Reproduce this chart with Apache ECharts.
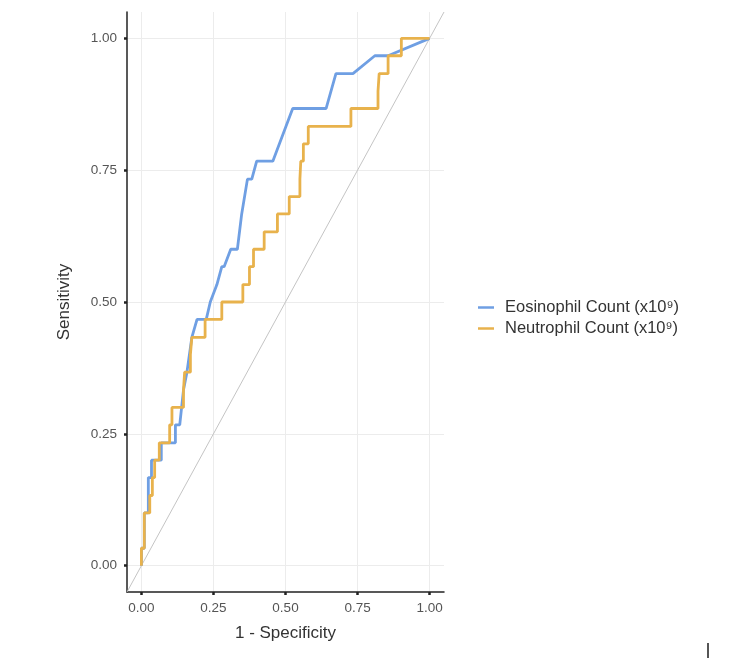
<!DOCTYPE html>
<html>
<head>
<meta charset="utf-8">
<title>ROC</title>
<script src="https://cdn.jsdelivr.net/npm/echarts@6/dist/echarts.min.js"></script>
<style>
	html, body {margin:0; padding:0; background:#fff;}
	#main {width:750px; height:662px;}
</style>
</head>
<body>
<div id="main"></div>
<script>
	// tick positions and labels
	var tickValues = [0, 0.25, 0.5, 0.75, 1];
	var tickLabels = ['0.00', '0.25', '0.50', '0.75', '1.00'];
	// reference diagonal (chance line), spans the axis range
	var refLine = [[-0.05, -0.05], [1.05, 1.05]];
	// Eosinophil Count: [1 - specificity, sensitivity]
	var eosinophil = [
		[0, 0], [0, 0.033], [0.010, 0.033], [0.010, 0.1], [0.024, 0.1], [0.024, 0.167],
		[0.035, 0.167], [0.035, 0.2], [0.069, 0.2], [0.069, 0.233], [0.118, 0.233],
		[0.118, 0.267], [0.133, 0.267], [0.146, 0.333], [0.158, 0.367], [0.175, 0.433],
		[0.193, 0.467], [0.225, 0.467], [0.239, 0.5], [0.262, 0.533], [0.279, 0.567],
		[0.287, 0.567], [0.310, 0.6], [0.333, 0.6], [0.348, 0.667], [0.368, 0.733],
		[0.383, 0.733], [0.400, 0.767], [0.456, 0.767], [0.525, 0.867], [0.641, 0.867],
		[0.675, 0.933], [0.734, 0.933], [0.810, 0.967], [0.856, 0.967], [1, 1]
	];
	// Neutrophil Count
	var neutrophil = [
		[0, 0], [0, 0.033], [0.010, 0.033], [0.010, 0.1], [0.029, 0.1], [0.029, 0.133],
		[0.038, 0.133], [0.038, 0.167], [0.046, 0.167], [0.046, 0.2], [0.062, 0.2],
		[0.062, 0.233], [0.098, 0.233], [0.098, 0.267], [0.106, 0.267], [0.106, 0.3],
		[0.146, 0.3], [0.146, 0.333], [0.150, 0.333], [0.150, 0.367], [0.170, 0.367],
		[0.170, 0.4], [0.175, 0.4], [0.175, 0.433], [0.221, 0.433], [0.221, 0.467],
		[0.279, 0.467], [0.279, 0.5], [0.352, 0.5], [0.352, 0.533], [0.375, 0.533],
		[0.375, 0.567], [0.389, 0.567], [0.389, 0.6], [0.426, 0.6], [0.426, 0.633],
		[0.472, 0.633], [0.472, 0.667], [0.513, 0.667], [0.513, 0.7], [0.550, 0.7],
		[0.550, 0.733], [0.553, 0.733], [0.553, 0.767], [0.562, 0.767], [0.562, 0.8],
		[0.579, 0.8], [0.579, 0.833], [0.727, 0.833], [0.727, 0.867], [0.821, 0.867],
		[0.821, 0.9], [0.825, 0.9], [0.825, 0.933], [0.856, 0.933], [0.856, 0.967],
		[0.902, 0.967], [0.902, 1], [1, 1]
	];
	var seriesNames = ['Eosinophil Count (x10\u2079)', 'Neutrophil Count (x10\u2079)'];
	var colors = ['#6f9fe3', '#e8b24c'];

	var font = '"Liberation Sans", Arial, Helvetica, sans-serif';
	function tickFmt(v) {
		for (var i = 0; i < tickValues.length; i++) {
			if (Math.abs(tickValues[i] - v) < 1e-6) return tickLabels[i];
		}
		return '';
	}
	function makeAxis(name, nameGap, margin) {
		return {
			type: 'value',
			min: -0.05,
			max: 1.05,
			name: name,
			nameGap: nameGap,
			nameLocation: 'middle',
			nameTextStyle: {fontFamily: font, fontSize: 17, color: '#333'},
			axisLine: {show: true, onZero: false, lineStyle: {color: '#222', width: 1.5}},
			axisTick: {show: true, length: 3, customValues: tickValues,
				lineStyle: {color: '#222', width: 2.5}},
			axisLabel: {fontFamily: font, fontSize: 13.5, color: '#555', margin: margin,
				customValues: tickValues, formatter: tickFmt},
			splitLine: {show: true, lineStyle: {color: '#ececec', width: 1}}
		};
	}

	var myChart = echarts.init(document.getElementById('main'));
	var option = {
		animation: false,
		backgroundColor: '#fff',
		grid: {left: 127, right: 306, top: 12, bottom: 70},
		xAxis: makeAxis('1 - Specificity', 33, 9),
		yAxis: makeAxis('Sensitivity', 54, 10),
		legend: {
			orient: 'vertical',
			left: 473,
			top: 294,
			itemWidth: 16,
			itemHeight: 2.5,
			itemGap: 4,
			icon: 'rect',
			data: seriesNames,
			textStyle: {fontFamily: font, fontSize: 16.5, color: '#333', padding: [0, 0, 0, 6]}
		},
		series: [
			{
				type: 'line',
				data: refLine,
				showSymbol: false,
				silent: true,
				z: 1,
				lineStyle: {color: '#c4c4c4', width: 1}
			},
			{
				name: seriesNames[0],
				type: 'line',
				data: eosinophil,
				showSymbol: false,
				z: 2,
				itemStyle: {color: colors[0]},
				lineStyle: {color: colors[0], width: 2.8}
			},
			{
				name: seriesNames[1],
				type: 'line',
				data: neutrophil,
				showSymbol: false,
				z: 3,
				itemStyle: {color: colors[1]},
				lineStyle: {color: colors[1], width: 2.8}
			}
		],
		graphic: [
			{type: 'rect', left: 707, top: 643, shape: {width: 2, height: 15}, style: {fill: '#555'}}
		]
	};
	myChart.setOption(option);
</script>
</body>
</html>
